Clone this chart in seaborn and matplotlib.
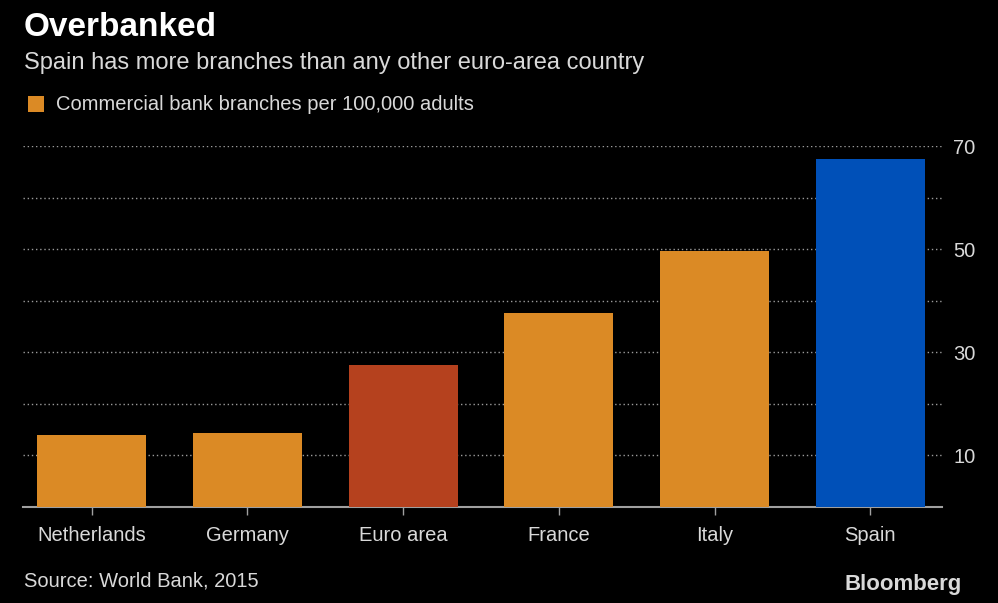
import matplotlib
matplotlib.use('Agg')
import matplotlib.pyplot as plt
import seaborn as sns
import pandas as pd

countries = ['Netherlands', 'Germany', 'Euro area', 'France', 'Italy', 'Spain']
branches = [13.9, 14.3, 27.5, 37.6, 49.6, 67.5]
bar_colors = ['#DB8A25', '#DB8A25', '#B5411E', '#DB8A25', '#DB8A25', '#0050B8']
ytick_vals = [10, 30, 50, 70]

df = pd.DataFrame({'country': countries, 'branches': branches})

sns.set_style('dark')
plt.rcParams['font.family'] = ['Liberation Sans', 'DejaVu Sans']
txt = '#d9d9d9'

fig = plt.figure(figsize=(9.98, 6.03), dpi=100, facecolor='black')
ax = fig.add_axes([23/998, 1-507/603, (942-23)/998, (507-146)/603])
ax.set_facecolor('black')

sns.barplot(data=df, x='country', y='branches', hue='country', palette=bar_colors,
            width=0.7, legend=False, saturation=1, linewidth=0, edgecolor='none',
            ax=ax, zorder=3)

ax.set_xlim(-0.44, 5.46)
ax.set_ylim(0, 70)
ax.set_yticks(range(10, 71, 10))
ax.set_yticklabels([str(v) if v in ytick_vals else '' for v in range(10, 71, 10)])
ax.yaxis.tick_right()
ax.grid(axis='y', color='#9a9a9a', linestyle=(0, (1, 2)), linewidth=1, zorder=0)
ax.grid(axis='x', visible=False)
for s in ['top', 'left', 'right']:
    ax.spines[s].set_visible(False)
ax.spines['bottom'].set_color('#a0a0a0')
ax.spines['bottom'].set_linewidth(1.5)
ax.tick_params(axis='y', length=0, pad=8, labelcolor=txt, labelsize=14.5)
ax.tick_params(axis='x', length=6, width=1, color='#a0a0a0', direction='out',
               pad=8, labelcolor=txt, labelsize=14.5, bottom=True)
ax.set_xlabel('')
ax.set_ylabel('')

fig.text(0.024, 0.94, 'Overbanked', color='white', fontsize=24, fontweight='bold', va='baseline')
fig.text(0.024, 0.885, 'Spain has more branches than any other euro-area country',
         color=txt, fontsize=17, va='baseline')
fig.patches.append(plt.Rectangle((0.028, 0.814), 0.016, 0.027, transform=fig.transFigure,
                                 facecolor='#DB8A25', edgecolor='none'))
fig.text(0.056, 0.817, 'Commercial bank branches per 100,000 adults',
         color=txt, fontsize=14.5, va='baseline')
fig.text(0.024, 0.027, 'Source: World Bank, 2015', color=txt, fontsize=14.5, va='baseline')
fig.text(0.964, 0.022, 'Bloomberg', color='#d9d9d9', fontsize=16, fontweight='bold',
         ha='right', va='baseline')

fig.savefig('out.png', dpi=100, facecolor='black')
